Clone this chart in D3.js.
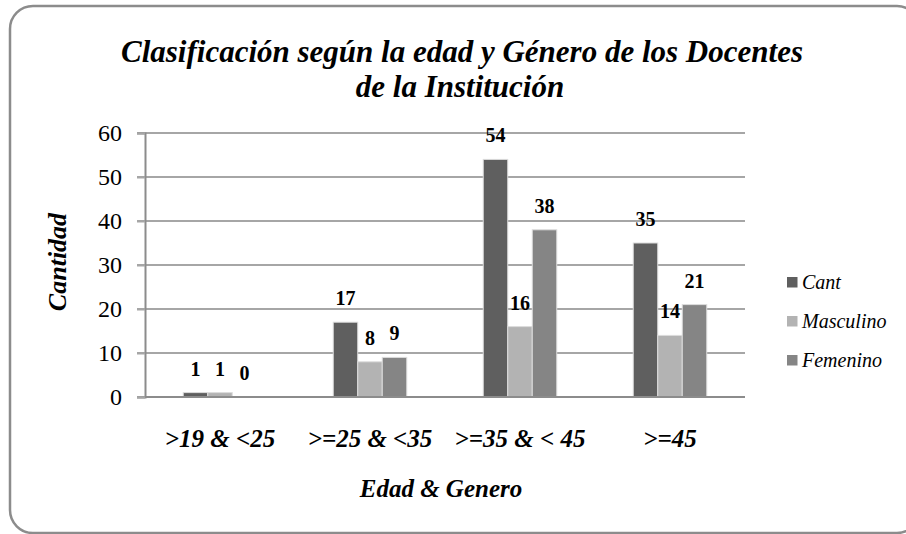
<!DOCTYPE html>
<html>
<head>
<meta charset="utf-8">
<script src="https://cdn.jsdelivr.net/npm/d3@7"></script>
<style>
  body { margin: 0; background: #fff; }
</style>
</head>
<body>
<div id="chart"></div>
<script>
// Data
const categories = [">19 & <25", ">=25 & <35", ">=35 & < 45", ">=45"];
const seriesNames = ["Cant", "Masculino", "Femenino"];
const cant = [1, 17, 54, 35];
const masculino = [1, 8, 16, 14];
const femenino = [0, 9, 38, 21];
const yTicks = [0, 10, 20, 30, 40, 50, 60];

const seriesValues = [cant, masculino, femenino];
const colors = ["#5f5f5f", "#b3b3b3", "#858585"];
const serif = "'Liberation Serif', 'Times New Roman', serif";

const width = 906, height = 534;
const margin = { top: 133, right: 161, bottom: 137, left: 145 };
const plotW = width - margin.left - margin.right;
const plotH = height - margin.top - margin.bottom;

const svg = d3.select("#chart").append("svg")
    .attr("width", width)
    .attr("height", height)
    .attr("font-family", serif);

// Outer rounded frame
svg.append("rect")
    .attr("x", 10).attr("y", 6)
    .attr("width", 910).attr("height", 527)
    .attr("rx", 23).attr("ry", 23)
    .attr("fill", "none")
    .attr("stroke", "#8c8c8c")
    .attr("stroke-width", 2.5);

// Title (two lines)
const title = svg.append("text")
    .attr("text-anchor", "middle")
    .style("font-family", serif)
    .style("font-size", "31px")
    .style("font-weight", "bold")
    .style("font-style", "italic");
title.append("tspan").attr("x", 462).attr("y", 62).text("Clasificación según la edad y Género de los Docentes");
title.append("tspan").attr("x", 460).attr("y", 97).text("de la Institución");

const g = svg.append("g")
    .attr("transform", `translate(${margin.left},${margin.top})`);

// Scales
const x0 = d3.scaleBand()
    .domain(categories)
    .range([0, plotW])
    .padding(0);

const x1 = d3.scaleBand()
    .domain(seriesNames)
    .range([0, x0.bandwidth()])
    .paddingInner(0)
    .paddingOuter(1.56);

const y = d3.scaleLinear()
    .domain([0, 60])
    .range([plotH, 0]);

// Grid lines
g.append("g")
    .selectAll("line")
    .data(yTicks)
    .enter()
    .append("line")
    .attr("x1", -8)
    .attr("x2", plotW)
    .attr("y1", d => y(d))
    .attr("y2", d => y(d))
    .attr("stroke", "#a6a6a6")
    .attr("stroke-width", 2);

// Y axis
const yAxis = g.append("g")
    .call(d3.axisLeft(y).tickValues(yTicks).tickSize(8).tickPadding(15));
yAxis.attr("font-family", serif);
yAxis.select(".domain").attr("stroke", "#8c8c8c").attr("stroke-width", 2);
yAxis.selectAll(".tick line").attr("stroke", "#a6a6a6").attr("stroke-width", 2);
yAxis.selectAll("text")
    .style("font-family", serif)
    .style("font-size", "24px")
    .attr("fill", "#000");

// Bars
const groups = g.append("g")
    .selectAll("g")
    .data(seriesNames)
    .enter()
    .append("g");

const cells = (s, si) => categories.map((c, ci) => ({ c, s, si, v: seriesValues[si][ci] }));

groups.selectAll("rect")
    .data(cells)
    .enter()
    .append("rect")
    .attr("x", d => x0(d.c) + x1(d.s))
    .attr("y", d => y(d.v))
    .attr("width", x1.bandwidth())
    .attr("height", d => plotH - y(d.v))
    .attr("fill", d => colors[d.si])
    .attr("stroke", d => d.v > 0 ? "#dcdcdc" : "none")
    .attr("stroke-width", 1);

// Value labels
groups.selectAll("text")
    .data(cells)
    .enter()
    .append("text")
    .attr("x", d => x0(d.c) + x1(d.s) + x1.bandwidth() / 2)
    .attr("y", d => y(d.v) - 17)
    .attr("text-anchor", "middle")
    .style("font-family", serif)
    .style("font-size", "20px")
    .style("font-weight", "bold")
    .text(d => d.v);

// X axis line
g.append("line")
    .attr("x1", 0).attr("x2", plotW)
    .attr("y1", plotH).attr("y2", plotH)
    .attr("stroke", "#8c8c8c")
    .attr("stroke-width", 2);

// Category labels
g.append("g")
    .selectAll("text")
    .data(categories)
    .enter()
    .append("text")
    .attr("x", d => x0(d) + x0.bandwidth() / 2)
    .attr("y", plotH + 50)
    .attr("text-anchor", "middle")
    .style("font-family", serif)
    .style("font-size", "25px")
    .style("font-weight", "bold")
    .style("font-style", "italic")
    .text(d => d);

// Axis titles
svg.append("text")
    .attr("x", 441)
    .attr("y", 497)
    .attr("text-anchor", "middle")
    .style("font-family", serif)
    .style("font-size", "25px")
    .style("font-weight", "bold")
    .style("font-style", "italic")
    .text("Edad & Genero");

svg.append("text")
    .attr("transform", "rotate(-90)")
    .attr("x", -262)
    .attr("y", 66)
    .attr("text-anchor", "middle")
    .style("font-family", serif)
    .style("font-size", "26px")
    .style("font-weight", "bold")
    .style("font-style", "italic")
    .text("Cantidad");

// Legend
const legend = svg.append("g")
    .selectAll("g")
    .data(seriesNames)
    .enter()
    .append("g")
    .attr("transform", (d, i) => `translate(787,${282 + i * 39})`);

legend.append("rect")
    .attr("x", 0).attr("y", -5)
    .attr("width", 10.5).attr("height", 10.5)
    .attr("fill", (d, i) => colors[i]);

legend.append("text")
    .attr("x", 15)
    .attr("y", 6.5)
    .style("font-family", serif)
    .style("font-size", "20px")
    .style("font-style", "italic")
    .text(d => d);
</script>
</body>
</html>
